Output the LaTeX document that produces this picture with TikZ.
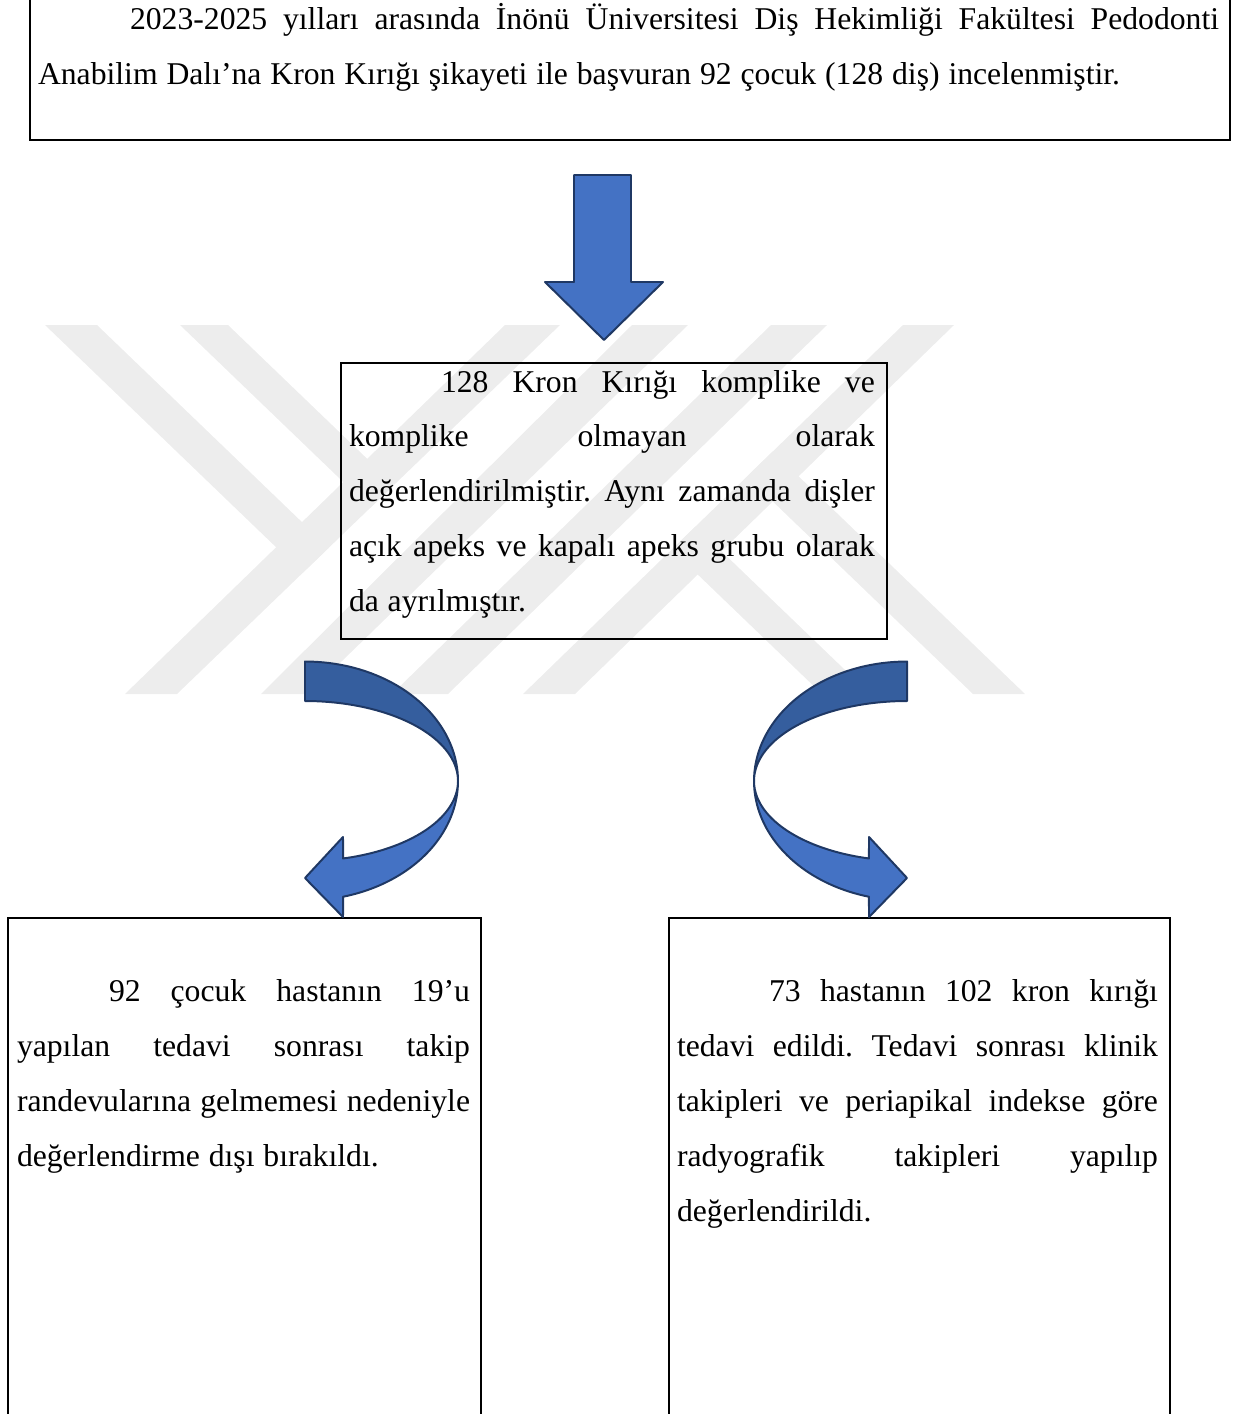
\documentclass[tikz,border=0pt]{standalone}
\usepackage{fontspec}
\setmainfont{Liberation Serif}
\hbadness=10000
\frenchspacing
\definecolor{wm}{RGB}{237,237,237}
\definecolor{arrfill}{RGB}{68,114,196}
\definecolor{arrdark}{RGB}{53,94,158}
\definecolor{arrline}{RGB}{31,56,100}
% justified line of a given width: spaces stretch equally
\newcommand\jline[2]{\hbox to #1{\spaceskip=0.205em plus 1fil\relax #2}\par}
\newcommand\jfirst[2]{\hbox to #1{\hskip34.85pt\spaceskip=0.205em plus 1fil\relax #2}\par}
\newcommand\narrowsp{\spaceskip=0.28em\relax}
\begin{document}
\begin{tikzpicture}[x=0.3788pt,y=-0.3788pt,
  wmark/.style={fill=wm,draw=none},
  box/.style={draw=black,line width=0.78pt,inner sep=0pt,anchor=north west},
  txt/.style={inner sep=0pt,outer sep=0pt,anchor=base west,font=\fontsize{12pt}{20.83pt}\selectfont},
  blockarrow/.style={fill=arrfill,draw=arrline,line width=0.75pt,line join=round},
  backpart/.style={fill=arrdark,draw=arrline,line width=0.75pt,line join=round}]
\useasboundingbox (0,0) rectangle (1248,1414);
% ---- watermark (faint stripes) ----
\fill[wmark] (505,325) -- (560,325) -- (177,694) -- (125,694) -- cycle;
\fill[wmark] (632,325) -- (688,325) -- (308,694) -- (261,694) -- cycle;
\fill[wmark] (771,325) -- (827,325) -- (448,694) -- (392,694) -- cycle;
\fill[wmark] (903,325) -- (954,325) -- (575,694) -- (523,694) -- cycle;
\fill[wmark] (45,325) -- (97,325) -- (328.7,547.8) -- (302.7,572.8) -- cycle;
\fill[wmark] (180,325) -- (228,325) -- (394.2,484.8) -- (370.2,507.9) -- cycle;
\fill[wmark] (973,694) -- (1025,694) -- (772.8,451.5) -- (746.9,476.6) -- cycle;
\fill[wmark] (822,694) -- (870,694) -- (695.7,526.4) -- (671.8,549.6) -- cycle;
% ---- boxes ----
\node[box,minimum width=1200*0.3788pt,minimum height=160*0.3788pt] (topbox) at (29,-21) {};
\node[box,minimum width=546*0.3788pt,minimum height=276*0.3788pt] (midbox) at (340,362) {};
\node[box,minimum width=473*0.3788pt,minimum height=560*0.3788pt] (leftbox) at (7,917) {};
\node[box,minimum width=501*0.3788pt,minimum height=560*0.3788pt] (rightbox) at (668,917) {};
% ---- texts ----
\node[txt,text width=447.4pt] (toptext) at (38,29.5)
  {\narrowsp\jfirst{447.4pt}{2023-2025 yılları arasında İnönü Üniversitesi Diş Hekimliği Fakültesi Pedodonti}Anabilim Dalı’na Kron Kırığı şikayeti ile başvuran 92 çocuk (128 diş) incelenmiştir.};
\node[txt,text width=199.2pt] (midtext) at (349,392)
  {\narrowsp\jfirst{199.2pt}{128 Kron Kırığı komplike ve}\jline{199.2pt}{komplike olmayan olarak}\jline{199.2pt}{değerlendirilmiştir. Aynı zamanda dişler}\jline{199.2pt}{açık apeks ve kapalı apeks grubu olarak}da ayrılmıştır.};
\node[txt,text width=171.6pt] (lefttext) at (17,1001.7)
  {\narrowsp\jfirst{171.6pt}{92 çocuk hastanın 19’u}\jline{171.6pt}{yapılan tedavi sonrası takip}\jline{171.6pt}{randevularına gelmemesi nedeniyle}değerlendirme dışı bırakıldı.};
\node[txt,text width=182.2pt] (righttext) at (677,1001.7)
  {\narrowsp\jfirst{182.2pt}{73 hastanın 102 kron kırığı}\jline{182.2pt}{tedavi edildi. Tedavi sonrası klinik}\jline{182.2pt}{takipleri ve periapikal indekse göre}\jline{182.2pt}{radyografik takipleri yapılıp}değerlendirildi.};
% ---- down block arrow ----
\filldraw[blockarrow] (574,175) -- (631,175) -- (631,282) -- (663,282) -- (604,340) -- (545,282) -- (574,282) -- cycle;
% ---- left curved arrow ----
\filldraw[backpart] plot[domain=-90:0,samples=40,variable=\t] ({305+153*cos(\t)},{781+119.5*sin(\t)})
  -- plot[domain=0:-90,samples=40,variable=\t] ({305+153*cos(\t)},{781+80*sin(\t)}) -- cycle;
\filldraw[blockarrow] plot[domain=0:75.6,samples=40,variable=\t] ({305+153*cos(\t)},{781+119.5*sin(\t)})
  -- (343,917) -- (305,878) -- (343,837)
  -- plot[domain=75.6:0,samples=40,variable=\t] ({305+153*cos(\t)},{781+80*sin(\t)}) -- cycle;
% ---- right curved arrow ----
\filldraw[backpart] plot[domain=-90:0,samples=40,variable=\t] ({907-153*cos(\t)},{781+119.5*sin(\t)})
  -- plot[domain=0:-90,samples=40,variable=\t] ({907-153*cos(\t)},{781+80*sin(\t)}) -- cycle;
\filldraw[blockarrow] plot[domain=0:75.6,samples=40,variable=\t] ({907-153*cos(\t)},{781+119.5*sin(\t)})
  -- (869,917) -- (907,878) -- (869,837)
  -- plot[domain=75.6:0,samples=40,variable=\t] ({907-153*cos(\t)},{781+80*sin(\t)}) -- cycle;
\end{tikzpicture}
\end{document}
